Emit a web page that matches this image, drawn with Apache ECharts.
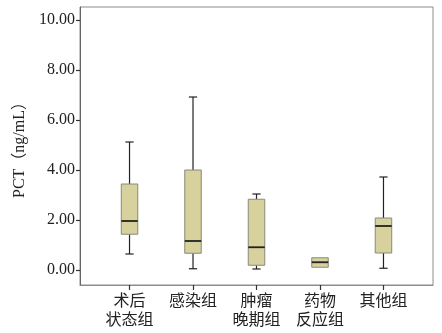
<!DOCTYPE html>
<html>
<head>
<meta charset="utf-8">
<script src="https://cdn.jsdelivr.net/npm/echarts@6/dist/echarts.min.js"></script>
<style>
  html, body { margin: 0; padding: 0; background: #fff; }
  #chart { width: 442px; height: 333px; }
</style>
</head>
<body>
<div id="chart"></div>
<script>
// Groups and their five-number summaries (PCT, ng/mL)
const categories = ['术后\n状态组', '感染组', '肿瘤\n晚期组', '药物\n反应组', '其他组'];
const whiskerLow = [0.64, 0.05, 0.04, 0.11, 0.07];
const quartile1  = [1.43, 0.67, 0.19, 0.11, 0.68];
const medians    = [1.96, 1.16, 0.91, 0.31, 1.76];
const quartile3  = [3.44, 4.00, 2.83, 0.49, 2.08];
const whiskerHigh = [5.12, 6.92, 3.04, 0.49, 3.72];
const yTicks = [0, 2, 4, 6, 8, 10];

const Y_MIN = -0.6, Y_MAX = 10.52;
// group positions on the x axis, with wide outer margins
const groupPos = categories.map((c, i) => i);
const X_MIN = -0.78, X_MAX = 4.78;
const serif = '"Liberation Serif", "Times New Roman", "Noto Sans CJK SC", serif';

const boxData = categories.map((c, i) => [groupPos[i], whiskerLow[i], quartile1[i], medians[i], quartile3[i], whiskerHigh[i]]);

function renderBox(params, api) {
  const pos = api.value(0);
  const pt = v => api.coord([pos, v]);
  const x = pt(api.value(3))[0];
  const unit = api.size([1, 0])[0];
  const half = unit * 0.13;
  const cap = half * 0.5;
  const yLow = pt(api.value(1))[1];
  const yQ1 = pt(api.value(2))[1];
  const yMed = pt(api.value(3))[1];
  const yQ3 = pt(api.value(4))[1];
  const yHigh = pt(api.value(5))[1];
  const line = (x1, y1, x2, y2, color, w) => ({
    type: 'line', shape: { x1, y1, x2, y2 },
    style: { stroke: color, lineWidth: w }
  });
  const children = [];
  if (yHigh < yQ3 - 0.5) {
    children.push(line(x, yHigh, x, yQ3, '#222', 1.2));
    children.push(line(x - cap, yHigh, x + cap, yHigh, '#222', 1.2));
  }
  if (yLow > yQ1 + 0.5) {
    children.push(line(x, yQ1, x, yLow, '#222', 1.2));
    children.push(line(x - cap, yLow, x + cap, yLow, '#222', 1.2));
  }
  children.push({
    type: 'rect',
    shape: { x: x - half, y: yQ3, width: half * 2, height: yQ1 - yQ3 },
    style: { fill: '#d6d19d', stroke: '#8a8a7a', lineWidth: 1 }
  });
  children.push(line(x - half, yMed, x + half, yMed, '#222', 1.8));
  return { type: 'group', children };
}

const chart = echarts.init(document.getElementById('chart'), null, { renderer: 'canvas' });
chart.setOption({
  animation: false,
  grid: { left: 80, right: 9, top: 7, bottom: 48, show: true, borderColor: '#8c8c8c', borderWidth: 1, backgroundColor: 'transparent' },
  xAxis: {
    type: 'value', min: X_MIN, max: X_MAX,
    axisLine: { show: true, onZero: false, lineStyle: { color: '#8c8c8c' } },
    axisTick: { show: true, length: 5, customValues: groupPos, lineStyle: { color: '#333', width: 1.2 } },
    axisLabel: {
      customValues: groupPos, color: '#222', fontSize: 16, lineHeight: 19, margin: 7, fontFamily: serif,
      formatter: v => categories[Math.round(v)]
    },
    splitLine: { show: false }
  },
  yAxis: {
    type: 'value', min: Y_MIN, max: Y_MAX,
    name: 'PCT（ng/mL）', nameLocation: 'middle', nameGap: 50, nameRotate: 90,
    nameTextStyle: { color: '#222', fontSize: 16, fontFamily: serif },
    axisLine: { show: true, onZero: false, lineStyle: { color: '#666' } },
    axisTick: { show: true, length: 4, customValues: yTicks, lineStyle: { color: '#333', width: 1.2 } },
    axisLabel: {
      customValues: yTicks, color: '#222', fontSize: 16, margin: 5, fontFamily: serif,
      formatter: v => Number(v).toFixed(2)
    },
    splitLine: { show: false }
  },
  series: [{
    type: 'custom',
    renderItem: renderBox,
    encode: { x: 0, y: [1, 2, 3, 4, 5] },
    data: boxData
  }]
});
</script>
</body>
</html>
